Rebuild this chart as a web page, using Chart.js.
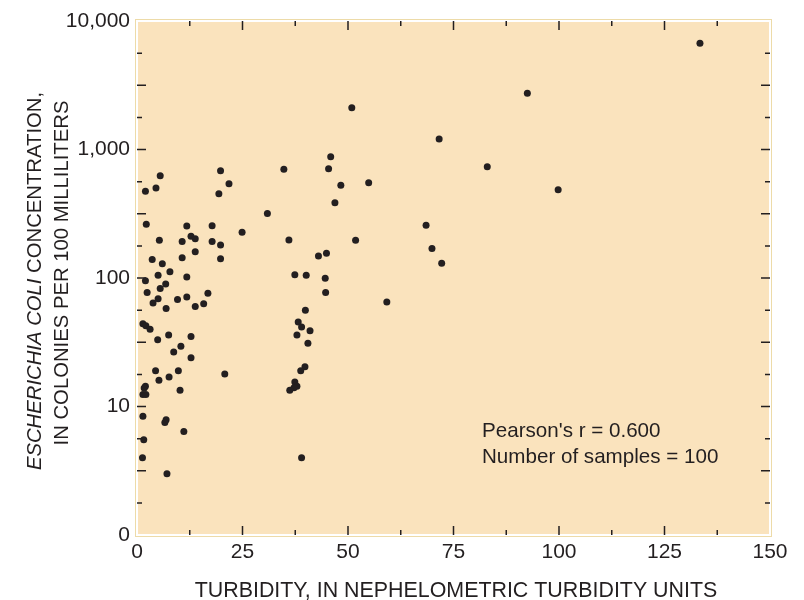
<!DOCTYPE html>
<html lang="en">
<head>
<meta charset="UTF-8">
<title>E. coli and turbidity</title>
<style>
    html, body { margin: 0; padding: 0; background: #fff; }
    .chart-box { width: 804px; height: 600px; position: relative; }
</style>
</head>
<body>
<div class="chart-box"><canvas id="scatterChart"></canvas></div>

<script src="https://cdn.jsdelivr.net/npm/chart.js"></script>
<script>
// Turbidity, in NTU
const turbidity = [
    5.5, 2.0, 4.5, 19.8, 21.8, 19.4, 30.9, 2.2, 11.8, 17.8,
    24.9, 5.3, 10.7, 12.8, 13.8, 17.8, 19.8, 13.8, 10.7, 19.8,
    3.6, 6.0, 7.8, 5.0, 11.8, 2.0, 6.8, 5.5, 2.4, 5.0,
    3.8, 6.9, 9.6, 11.8, 16.8, 13.8, 15.8, 1.4, 2.1, 3.1,
    4.9, 7.5, 12.8, 10.4, 8.7, 12.8, 4.4, 9.8, 5.2, 7.6,
    20.8, 2.0, 1.7, 1.4, 2.1, 10.2, 1.4, 6.9, 6.6, 11.1,
    1.6, 1.3, 7.1, 45.9, 34.8, 45.4, 48.3, 54.9, 46.9, 36.0,
    51.8, 44.9, 43.0, 37.4, 40.1, 44.6, 44.7, 59.2, 39.9, 38.2,
    39.0, 41.0, 37.9, 40.5, 39.8, 38.8, 37.4, 37.9, 37.2, 36.2,
    39.0, 133.4, 92.5, 71.6, 83.0, 99.8, 68.5, 69.9, 72.2, 50.9
];
// Escherichia coli, colonies per 100 milliliters
const ecoli = [
    625, 473, 502, 684, 542, 453, 317, 262, 254, 255,
    227, 197, 192, 211, 202, 192, 181, 160, 144, 141,
    139, 129, 112, 105, 102, 95, 90, 83, 77, 69,
    64, 58, 68, 71, 76, 60, 63, 44, 42.5, 40,
    33, 36, 35, 29.4, 26.6, 24, 19, 19, 16, 17,
    17.9, 14.4, 13.9, 12.4, 12.4, 13.4, 8.4, 7.9, 7.5, 6.4,
    5.5, 4.0, 3.0, 879, 701, 709, 527, 552, 385, 198,
    197, 156, 148, 106, 105, 99.5, 77, 65, 56, 45.5,
    41.6, 38.9, 36, 31, 20.4, 19, 15.5, 14.4, 14.0, 13.4,
    4.0, 6700, 2740, 1207, 735, 487, 257, 170, 130, 2115
];

const xTicks = [0, 25, 50, 75, 100, 125, 150];
const yTicks = [1, 10, 100, 1000, 10000];
const yTickLabels = ['0', '10', '100', '1,000', '10,000'];
const statLines = ["Pearson's r = 0.600", 'Number of samples = 100'];

const ink = '#231f20';
const fontName = "'Liberation Sans', Arial, Helvetica, sans-serif";

// peach plot area with a thin light frame and inward ticks
const plotFrame = {
    id: 'plotFrame',
    beforeDatasetsDraw(chart) {
        const a = chart.chartArea;
        const ctx = chart.ctx;
        ctx.save();
        ctx.fillStyle = '#fae3bd';
        ctx.fillRect(a.left, a.top, a.right - a.left, a.bottom - a.top);
        ctx.lineWidth = 1;
        ctx.strokeStyle = '#eddba8';
        ctx.strokeRect(a.left - 1.5, a.top - 1.5, a.right - a.left + 3, a.bottom - a.top + 3);
        ctx.strokeStyle = '#ffffff';
        ctx.strokeRect(a.left + 0.5, a.top + 0.5, a.right - a.left - 1, a.bottom - a.top - 1);

        const xs = chart.scales.x, ys = chart.scales.y;
        ctx.strokeStyle = ink;
        ctx.lineWidth = 1.5;
        ctx.beginPath();
        for (let k = 1; k < 12; k++) {
            const px = xs.getPixelForValue(k * 12.5);
            const len = k % 2 === 0 ? 9 : 5;
            ctx.moveTo(px, a.bottom); ctx.lineTo(px, a.bottom - len);
            ctx.moveTo(px, a.top); ctx.lineTo(px, a.top + len);
        }
        for (let k = 1; k < 16; k++) {
            const py = ys.getPixelForValue(Math.pow(10, k / 4));
            const len = k % 2 === 0 ? 9 : 5;
            ctx.moveTo(a.left, py); ctx.lineTo(a.left + len, py);
            ctx.moveTo(a.right, py); ctx.lineTo(a.right - len, py);
        }
        ctx.stroke();
        ctx.restore();
    }
};

// axis titles and the statistics note
const chartText = {
    id: 'chartText',
    afterDraw(chart) {
        const ctx = chart.ctx;
        ctx.save();
        ctx.fillStyle = ink;

        // y title, two rotated lines, first one partly italic
        const italicPart = 'ESCHERICHIA COLI';
        const plainPart = ' CONCENTRATION,';
        ctx.textBaseline = 'middle';
        ctx.translate(35, 281);
        ctx.rotate(-Math.PI / 2);
        ctx.font = 'italic 20.3px ' + fontName;
        const w1 = ctx.measureText(italicPart).width;
        ctx.font = '20.3px ' + fontName;
        const w2 = ctx.measureText(plainPart).width;
        const start = -(w1 + w2) / 2;
        ctx.textAlign = 'left';
        ctx.font = 'italic 20.3px ' + fontName;
        ctx.fillText(italicPart, start, 0);
        ctx.font = '20.3px ' + fontName;
        ctx.fillText(plainPart, start + w1, 0);
        ctx.textAlign = 'center';
        ctx.fillText('IN COLONIES PER 100 MILLILITERS', 8, 27);
        ctx.restore();

        ctx.save();
        ctx.fillStyle = ink;
        ctx.font = '21.4px ' + fontName;
        ctx.textBaseline = 'alphabetic';
        ctx.textAlign = 'center';
        ctx.fillText('TURBIDITY, IN NEPHELOMETRIC TURBIDITY UNITS', 456, 597);

        ctx.font = '20.6px ' + fontName;
        ctx.textAlign = 'left';
        ctx.fillText(statLines[0], 482, 437);
        ctx.fillText(statLines[1], 482, 463);
        ctx.restore();
    }
};

new Chart(document.getElementById('scatterChart'), {
    type: 'scatter',
    data: {
        datasets: [{
            data: turbidity.map((t, i) => ({ x: t, y: ecoli[i] })),
            backgroundColor: ink,
            borderWidth: 0,
            pointRadius: 3.5,
            pointHoverRadius: 3.5
        }]
    },
    options: {
        responsive: true,
        maintainAspectRatio: false,
        animation: false,
        events: [],
        layout: {
            padding: { left: 0, right: 34, top: 21, bottom: 0 }
        },
        scales: {
            x: {
                type: 'linear',
                min: 0,
                max: 150,
                afterBuildTicks: (scale) => { scale.ticks = xTicks.map(v => ({ value: v })); },
                afterFit: (scale) => { scale.height = 65; },
                grid: { display: false, drawTicks: false },
                border: { display: false },
                ticks: {
                    padding: 5,
                    color: ink,
                    font: { family: fontName, size: 21 },
                    maxRotation: 0,
                    autoSkip: false
                }
            },
            y: {
                type: 'logarithmic',
                min: 1,
                max: 10000,
                afterBuildTicks: (scale) => { scale.ticks = yTicks.map(v => ({ value: v })); },
                afterFit: (scale) => { scale.width = 137; },
                grid: { display: false, drawTicks: false },
                border: { display: false },
                ticks: {
                    padding: 7,
                    color: ink,
                    font: { family: fontName, size: 21 },
                    autoSkip: false,
                    callback: (value) => yTickLabels[yTicks.indexOf(value)]
                }
            }
        },
        plugins: {
            legend: { display: false },
            tooltip: { enabled: false }
        }
    },
    plugins: [plotFrame, chartText]
});
</script>
</body>
</html>
